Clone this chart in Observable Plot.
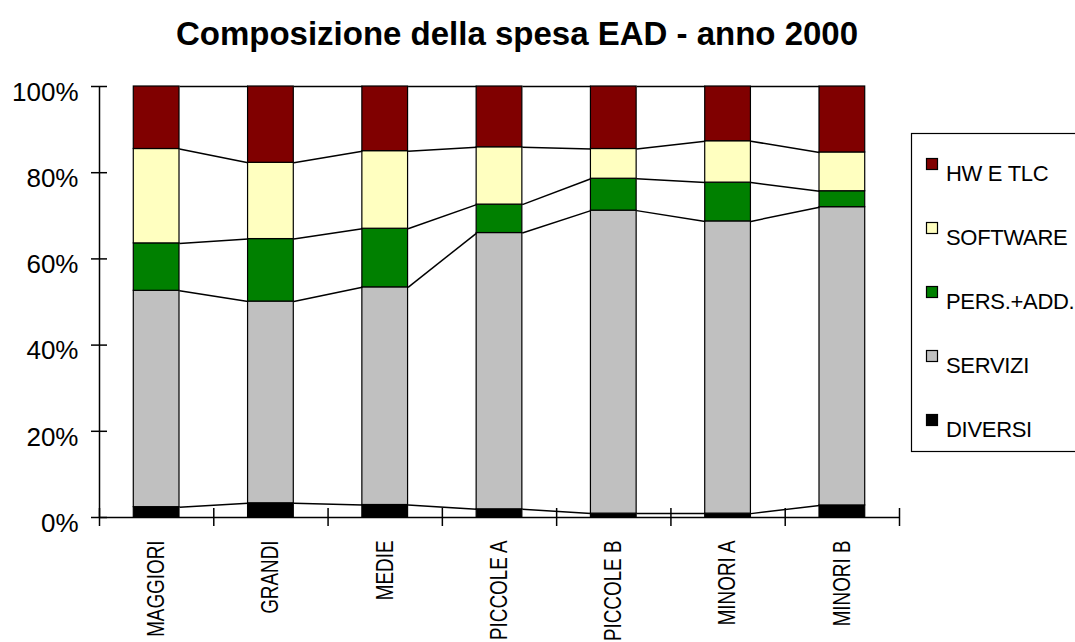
<!DOCTYPE html>
<html>
<head>
<meta charset="utf-8">
<script src="https://cdn.jsdelivr.net/npm/d3@7"></script>
<script src="https://cdn.jsdelivr.net/npm/@observablehq/plot@0.6"></script>
<style>
  html, body { margin: 0; padding: 0; background: #fff; }
  body { width: 1075px; height: 642px; overflow: hidden; position: relative; font-family: "Liberation Sans", Arial, sans-serif; }
  #title { position: absolute; left: 0; top: 17px; width: 1034px; text-align: center; font-weight: bold; font-size: 33px; line-height: 33px; color: #000; white-space: nowrap; }
  #chart { position: absolute; left: 0; top: 0; }
  #legend { position: absolute; left: 0; top: 0; }
</style>
</head>
<body>
<div id="chart"></div>
<div id="title">Composizione della spesa EAD - anno 2000</div>
<div id="legend"></div>
<script>
// ---- data ----
const categories = ["MAGGIORI", "GRANDI", "MEDIE", "PICCOLE A", "PICCOLE B", "MINORI A", "MINORI B"];
const seriesNames = ["DIVERSI", "SERVIZI", "PERS.+ADD.", "SOFTWARE", "HW E TLC"];
const seriesColors = ["#000000", "#c0c0c0", "#008000", "#ffffc0", "#800000"];
const diversi  = [2.4, 3.3, 2.9, 1.9, 0.9, 0.9, 2.8];
const servizi  = [50.2, 46.8, 50.5, 64.1, 70.3, 67.8, 69.2];
const persAdd  = [11.0, 14.5, 13.6, 6.6, 7.4, 9.0, 3.7];
const software = [21.9, 17.7, 18.0, 13.3, 6.9, 9.6, 9.0];
const hwTlc    = [14.5, 17.7, 15.0, 14.1, 14.5, 12.7, 15.3];
const yTicks = [0, 20, 40, 60, 80, 100];

const seriesValues = [diversi, servizi, persAdd, software, hwTlc];

// stacked rows
const rows = [];
categories.forEach((c, i) => {
  let acc = 0;
  seriesNames.forEach((s, k) => {
    const v = seriesValues[k][i];
    rows.push({cat: c, i, k, series: s, y1: acc, y2: acc + v});
    acc += v;
  });
});
// series lines between bars
const links = [];
seriesNames.forEach((s, k) => {
  for (let i = 0; i < categories.length - 1; i++) {
    const a = rows.find(r => r.i === i && r.k === k);
    const b = rows.find(r => r.i === i + 1 && r.k === k);
    links.push({i, y1: a.y2, y2: b.y2});
  }
});

const barLo = 0.3, barHi = 0.7;

const chart = Plot.plot({
  width: 1075,
  height: 642,
  marginLeft: 99,
  marginRight: 176,
  marginTop: 86,
  marginBottom: 125,
  x: {type: "linear", domain: [0, categories.length], axis: null},
  y: {domain: [0, 100], axis: null},
  color: {domain: seriesNames, range: seriesColors},
  style: {fontFamily: "'Liberation Sans', Arial, sans-serif", background: "transparent", color: "#000"},
  marks: [
    Plot.rect(rows, {x1: d => d.i + barLo, x2: d => d.i + barHi, y1: "y1", y2: "y2", fill: "series", stroke: "#000", strokeWidth: 1.2}),
    Plot.link(links, {x1: d => d.i + barHi, x2: d => d.i + 1 + barLo, y1: "y1", y2: "y2", stroke: "#000", strokeWidth: 1.5}),
    Plot.ruleX([0], {stroke: "#000", strokeWidth: 1.5}),
    Plot.ruleY([0], {stroke: "#000", strokeWidth: 1.5}),
    Plot.ruleY(yTicks, {x1: 0, x2: 0, insetLeft: -8, insetRight: -8, stroke: "#000", strokeWidth: 1.5}),
    Plot.ruleX(d3.range(categories.length + 1), {y1: 0, y2: 0, insetTop: -9, insetBottom: -9, stroke: "#000", strokeWidth: 1.5}),
    Plot.axisY(yTicks, {tickSize: 0, tickPadding: 21, tickFormat: d => d + "%", fontSize: 26, dy: 6}),
    Plot.axisX(categories.map((c, i) => i + 0.5), {
      tickSize: 0, tickPadding: 23, tickRotate: -90,
      tickFormat: v => categories[Math.floor(v)],
      fontSize: 23
    })
  ]
});
document.getElementById("chart").appendChild(chart);
// condense the rotated category labels along their reading direction
d3.select(chart).selectAll("text")
  .filter(function() { return categories.includes(this.textContent.trim()); })
  .each(function() {
    const t = this.getAttribute("transform") || "";
    this.setAttribute("transform", t + " scale(0.82,1)");
  });

// legend
const leg = d3.create("svg").attr("width", 1075).attr("height", 642);
leg.append("rect").attr("x", 911.5).attr("y", 133.5).attr("width", 220).attr("height", 318)
  .attr("fill", "#fff").attr("stroke", "#000").attr("stroke-width", 1.2);
const order = seriesNames.map((s, k) => ({s, c: seriesColors[k]})).reverse();
order.forEach((d, j) => {
  const y0 = 158 + j * 64;
  leg.append("rect").attr("x", 926.5).attr("y", y0 + 0.5).attr("width", 11).attr("height", 11)
    .attr("fill", d.c).attr("stroke", "#000").attr("stroke-width", 1.2);
  leg.append("text").attr("x", 946).attr("y", y0 + 23)
    .attr("font-family", "'Liberation Sans', Arial, sans-serif").attr("font-size", 22)
    .attr("letter-spacing", -0.3).attr("fill", "#000").text(d.s);
});
document.getElementById("legend").appendChild(leg.node());
</script>
</body>
</html>
